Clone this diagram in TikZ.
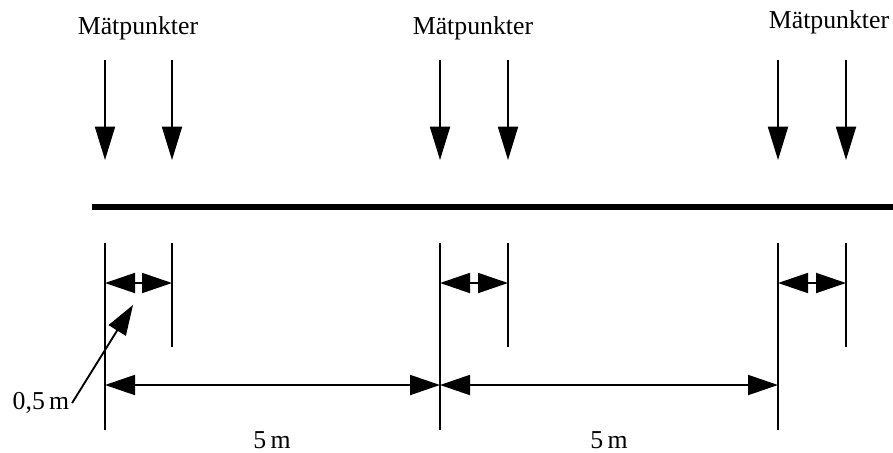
\documentclass[tikz,border=0pt]{standalone}
\usepackage{fontspec}
\setmainfont{Liberation Serif}
\usetikzlibrary{arrows.meta}
\tikzset{
    matarrow/.style={draw, -{Triangle[length=0.5cm, width=0.3cm]}, thick},
    matdim/.style={draw, {Triangle[length=0.45cm, width=0.3cm]}-{Triangle[length=0.45cm, width=0.3cm]}, thick},
    matpointer/.style={draw, -{Triangle[length=0.45cm, width=0.3cm]}, thick},
    matline/.style={draw, semithick},
    matbeam/.style={draw, line width=2.6pt},
    matlabel/.style={font=\fontsize{11}{13}\selectfont, inner sep=1pt}
}

\begin{document}
\begin{tikzpicture}[x=0.015cm, y=-0.015cm]
    \useasboundingbox (0,0) rectangle (893,452);

    % measuring points
    \node[matlabel] (meas1) at (138,28) {Mätpunkter};
    \node[matlabel] (meas2) at (473,28) {Mätpunkter};
    \node[matlabel] (meas3) at (829,22) {Mätpunkter};

    \foreach \x/\n in {105/1a, 172/1b, 440/2a, 508/2b, 778/3a, 846/3b} {
        \coordinate (top\n) at (\x,60);
        \coordinate (tip\n) at (\x,160);
        \draw[matarrow] (top\n) -- (tip\n);
    }

    % beam
    \coordinate (beamL) at (92,207);
    \coordinate (beamR) at (893,207);
    \draw[matbeam] (beamL) -- (beamR);

    % extension lines
    \foreach \x/\n/\e in {105/1a/430, 172/1b/347, 440/2a/430, 508/2b/347, 778/3a/430, 846/3b/347} {
        \coordinate (ext\n) at (\x,243);
        \coordinate (foot\n) at (\x,\e);
        \draw[matline] (ext\n) -- (foot\n);
    }

    % half metre spacing
    \foreach \n in {1,2,3} {
        \draw[matdim] (ext\n a |- 0,283) -- (ext\n b |- 0,283);
    }

    % five metre spacing
    \coordinate (dimA) at (105,385);
    \coordinate (dimB) at (440,385);
    \coordinate (dimC) at (778,385);
    \draw[matdim] (dimA) -- (dimB);
    \draw[matdim] (dimB) -- (dimC);
    \node[matlabel] (five1) at (272,440) {5\,m};
    \node[matlabel] (five2) at (609,440) {5\,m};

    \node[matlabel] (half) at (41,403) {0,5\,m};
    \coordinate (halftip) at (133,305);
    \draw[matpointer] (half.east) -- (halftip);
\end{tikzpicture}
\end{document}
